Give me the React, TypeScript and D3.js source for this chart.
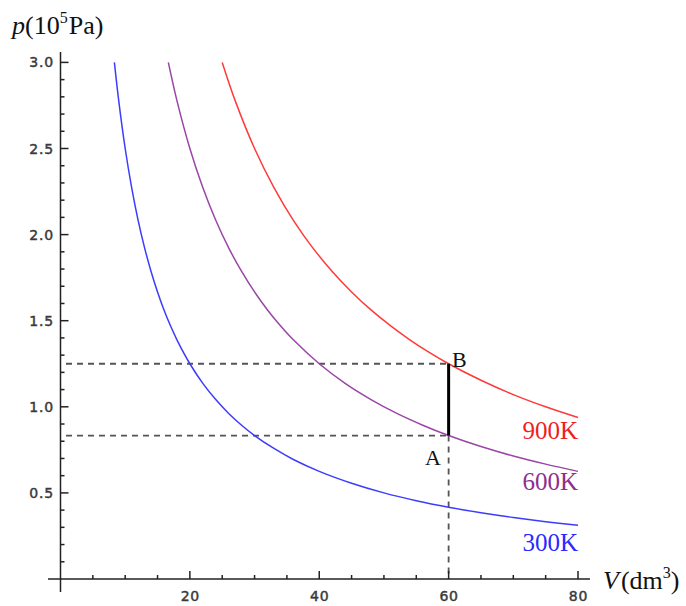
import React from "react";
import * as d3 from "d3";

// Isotherm samples (V in dm^3, p in 10^5 Pa)
const v300 = [8.33, 9, 10, 11, 12, 13, 14, 15, 16, 17, 18, 20, 22, 24, 26, 28, 30, 33, 36, 40, 45, 50, 55, 60, 65, 70, 75, 80];
const p300 = [3.0, 2.778, 2.5, 2.273, 2.083, 1.923, 1.786, 1.667, 1.5625, 1.471, 1.389, 1.25, 1.136, 1.042, 0.9615, 0.893, 0.833, 0.758, 0.694, 0.625, 0.556, 0.5, 0.4545, 0.4167, 0.3846, 0.357, 0.333, 0.3125];
const v600 = [16.67, 18, 20, 22, 24, 26, 28, 30, 32, 34, 36, 40, 44, 48, 52, 56, 60, 65, 70, 75, 80];
const p600 = [3.0, 2.778, 2.5, 2.273, 2.083, 1.923, 1.786, 1.667, 1.5625, 1.471, 1.389, 1.25, 1.136, 1.042, 0.9615, 0.893, 0.833, 0.769, 0.714, 0.667, 0.625];
const v900 = [25, 27, 30, 33, 36, 39, 42, 45, 48, 51, 54, 57, 60, 65, 70, 75, 80];
const p900 = [3.0, 2.778, 2.5, 2.273, 2.083, 1.923, 1.786, 1.667, 1.5625, 1.471, 1.389, 1.316, 1.25, 1.154, 1.071, 1.0, 0.9375];

const curveLabels = ["900K", "600K", "300K"];
const curveColors = ["#ff3a3a", "#9a46a6", "#3c3cff"];
const labelColors = ["#f01e1e", "#8e2e8e", "#2a2aff"];

const pointA = { V: 60, p: 0.833 };
const pointB = { V: 60, p: 1.25 };

const xMajor = [20, 40, 60, 80];
const yMajor = [0.5, 1.0, 1.5, 2.0, 2.5, 3.0];

export default function App() {
  const x = d3.scaleLinear().domain([0, 80]).range([60.5, 578]);
  const y = d3.scaleLinear().domain([0, 3]).range([579, 62.4]);

  const line = d3
    .line<[number, number]>()
    .x((d) => x(d[0]))
    .y((d) => y(d[1]))
    .curve(d3.curveCatmullRom.alpha(0.5));

  const series = [
    v900.map((v, i) => [v, p900[i]] as [number, number]),
    v600.map((v, i) => [v, p600[i]] as [number, number]),
    v300.map((v, i) => [v, p300[i]] as [number, number]),
  ];

  const xMinor = d3.range(5, 81, 5).filter((v) => !xMajor.includes(v));
  const yMinor = d3.range(1, 31).map((v) => v / 10).filter((v) => !yMajor.some((m) => Math.abs(m - v) < 1e-6));

  const axisColor = "#222";
  const tickFont = "DejaVu Sans, Verdana, sans-serif";
  const serif = "Liberation Serif, Times New Roman, serif";

  return (
    <svg width={686} height={606} style={{ position: "absolute", left: 0, top: 0 }}>
      <rect width={686} height={606} fill="#fff" />
      {/* dashed guides */}
      <g stroke="#555" strokeWidth={1.8} strokeDasharray="6,5" fill="none">
        <line x1={x(0) + 5.5} x2={x(pointB.V)} y1={y(pointB.p)} y2={y(pointB.p)} />
        <line x1={x(0) + 5.5} x2={x(pointA.V)} y1={y(pointA.p)} y2={y(pointA.p)} />
        <line x1={x(pointA.V)} x2={x(pointA.V)} y1={y(pointA.p)} y2={y(0)} />
      </g>
      {/* isotherms */}
      {series.map((s, i) => (
        <path key={i} d={line(s) || ""} fill="none" stroke={curveColors[i]} strokeWidth={1.5} />
      ))}
      {/* A-B segment */}
      <line x1={x(pointA.V)} x2={x(pointB.V)} y1={y(pointA.p)} y2={y(pointB.p)} stroke="#000" strokeWidth={3} />
      {/* axes */}
      <g stroke={axisColor} strokeWidth={1.5}>
        <line x1={x(0)} x2={x(0)} y1={52} y2={592} />
        <line x1={48} x2={590} y1={y(0)} y2={y(0)} />
        {yMajor.map((v) => (
          <line key={"ym" + v} x1={x(0)} x2={x(0) + 8} y1={y(v)} y2={y(v)} />
        ))}
        {yMinor.map((v) => (
          <line key={"yn" + v} x1={x(0)} x2={x(0) + 4} y1={y(v)} y2={y(v)} />
        ))}
        {xMajor.map((v) => (
          <line key={"xm" + v} x1={x(v)} x2={x(v)} y1={y(0)} y2={y(0) - 8} />
        ))}
        {xMinor.map((v) => (
          <line key={"xn" + v} x1={x(v)} x2={x(v)} y1={y(0)} y2={y(0) - 4} />
        ))}
      </g>
      <g fontFamily={tickFont} fontSize={14} fill="#3a3a3a" stroke="#3a3a3a" strokeWidth={0.45} letterSpacing={0.8}>
        {yMajor.map((v) => (
          <text key={"yl" + v} x={54} y={y(v)} dy="0.36em" textAnchor="end">
            {v.toFixed(1)}
          </text>
        ))}
        {xMajor.map((v) => (
          <text key={"xl" + v} x={x(v) + 0.5} y={601} textAnchor="middle">
            {v}
          </text>
        ))}
      </g>
      {/* curve labels */}
      {curveLabels.map((t, i) => (
        <text key={t} x={578} y={[439, 490, 551][i]} textAnchor="end" fontFamily={serif} fontSize={25} fill={labelColors[i]}>
          {t}
        </text>
      ))}
      {/* point labels */}
      <text x={452} y={367} fontFamily={serif} fontSize={22} fill="#111">B</text>
      <text x={425} y={465} fontFamily={serif} fontSize={22} fill="#111">A</text>
      {/* axis labels */}
      <text x={12} y={34} fontFamily={serif} fontSize={26} fill="#111">
        <tspan fontStyle="italic">p</tspan>
        <tspan>(10</tspan>
        <tspan fontSize={16} dy={-11}>5</tspan>
        <tspan dy={11} dx={1}>Pa)</tspan>
      </text>
      <text x={603} y={589} fontFamily={serif} fontSize={26} fill="#111">
        <tspan fontStyle="italic">V</tspan>
        <tspan dx={2}>(dm</tspan>
        <tspan fontSize={16} dy={-11}>3</tspan>
        <tspan dy={11}>)</tspan>
      </text>
    </svg>
  );
}
